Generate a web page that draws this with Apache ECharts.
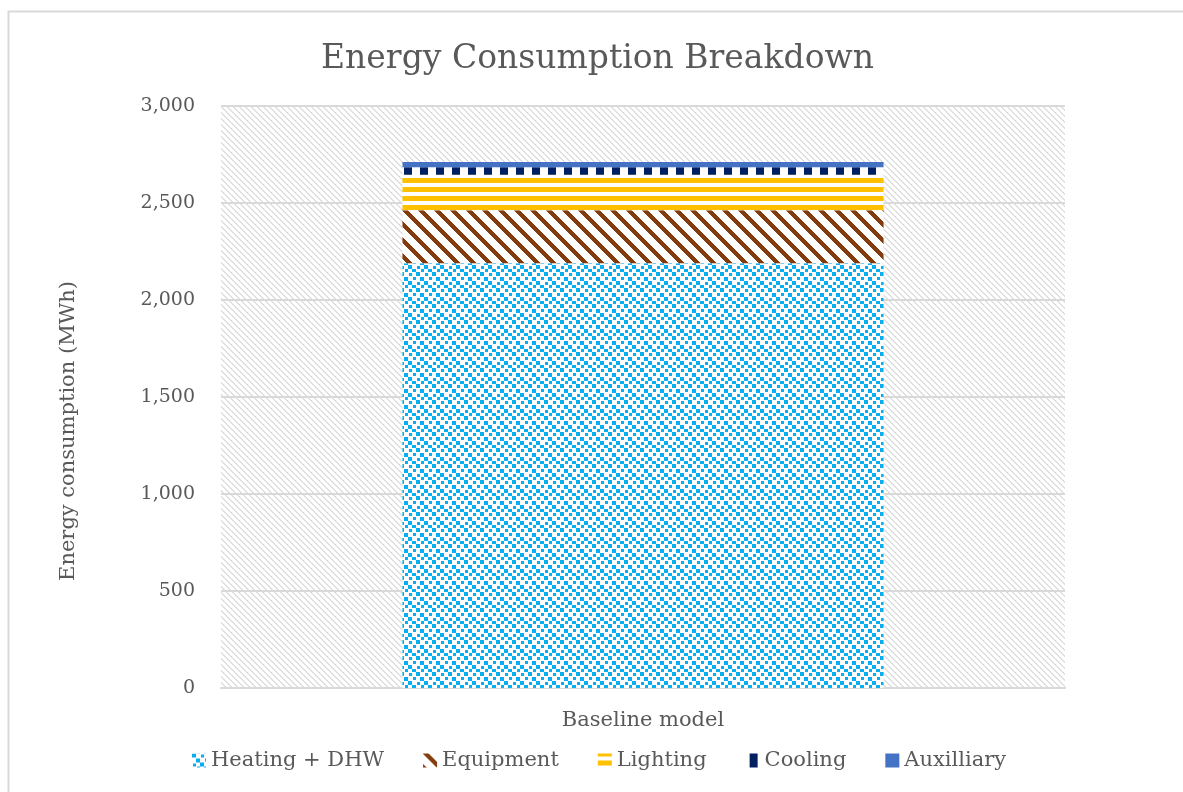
<!DOCTYPE html>
<html>
<head>
<meta charset="utf-8">
<script src="https://cdn.jsdelivr.net/npm/echarts@6/dist/echarts.min.js"></script>
<style>
html,body{margin:0;padding:0;background:#fff;}
#main{width:1183px;height:792px;}
</style>
</head>
<body>
<div id="main"></div>
<script>
// ---- data ----
const categories = ['Baseline model'];
const seriesNames = ['Heating + DHW', 'Equipment', 'Lighting', 'Cooling', 'Auxilliary'];
const heating = [2190];
const equipment = [272];
const lighting = [183];
const cooling = [39];
const auxiliary = [27];
const yTicks = [0, 500, 1000, 1500, 2000, 2500, 3000];

// ---- patterns ----
function makePattern(w, h, draw) {
  const c = document.createElement('canvas');
  c.width = w; c.height = h;
  const ctx = c.getContext('2d');
  draw(ctx, w, h);
  return { image: c, repeat: 'repeat' };
}
const bgHatch = makePattern(6, 6, (ctx, w, h) => {
  ctx.fillStyle = '#ffffff'; ctx.fillRect(0, 0, w, h);
  ctx.fillStyle = '#e0e0e0';
  for (let y = 0; y < h; y++) for (let x = 0; x < w; x++) {
    if (((x - y) % 6 + 6) % 6 < 2) ctx.fillRect(x, y, 1, 1);
  }
});
const heatPat = makePattern(16, 16, (ctx, w, h) => {
  ctx.fillStyle = '#ffffff'; ctx.fillRect(0, 0, w, h);
  ctx.fillStyle = '#08aef0';
  const sq = [[0,0,4],[9,1,3],[4,5,4],[13,5,3],[1,10,3],[8,9,4],[5,13,3],[12,13,4]];
  sq.forEach(s => ctx.fillRect(s[0], s[1], s[2], s[2]));
});
const equipPat = makePattern(16, 16, (ctx, w, h) => {
  ctx.fillStyle = '#ffffff'; ctx.fillRect(0, 0, w, h);
  ctx.fillStyle = '#843c0c';
  for (let y = 0; y < h; y++) for (let x = 0; x < w; x++) {
    if (((x - y) % 16 + 16) % 16 < 6) ctx.fillRect(x, y, 1, 1);
  }
});
const lightPat = makePattern(4, 9, (ctx, w, h) => {
  ctx.fillStyle = '#ffffff'; ctx.fillRect(0, 0, w, h);
  ctx.fillStyle = '#ffc000';
  ctx.fillRect(0, 0, w, 3);
  ctx.fillRect(0, 7, w, 2);
});
const coolPat = makePattern(16, 4, (ctx, w, h) => {
  ctx.fillStyle = '#ffffff'; ctx.fillRect(0, 0, w, h);
  ctx.fillStyle = '#002060';
  ctx.fillRect(4, 0, 8, h);
});

const font = 'DejaVu Serif';
const textColor = '#595959';

const fills = [heatPat, equipPat, lightPat, coolPat, '#4472c4'];
const values = [heating, equipment, lighting, cooling, auxiliary];

const series = seriesNames.map((name, i) => ({
  name: name,
  type: 'bar',
  stack: 'total',
  barWidth: '57%',
  data: values[i],
  itemStyle: { color: fills[i] },
  emphasis: { disabled: true }
}));

const chart = echarts.init(document.getElementById('main'), null, { renderer: 'canvas' });
chart.setOption({
  animation: false,
  backgroundColor: '#ffffff',
  graphic: [{
    type: 'rect',
    shape: { x: 8.5, y: 11.5, width: 1300, height: 900 },
    style: { fill: 'none', stroke: '#d9d9d9', lineWidth: 2 },
    silent: true, z: -10
  }],
  title: {
    text: 'Energy Consumption Breakdown',
    left: 321,
    top: 43,
    padding: 0,
    textStyle: { fontFamily: font, fontSize: 33, fontWeight: 'normal', color: textColor }
  },
  legend: {
    bottom: 21,
    left: 192,
    itemWidth: 14,
    itemHeight: 14,
    itemGap: 39,
    icon: 'rect',
    padding: 0,
    textStyle: { fontFamily: font, fontSize: 21, color: textColor },
    data: seriesNames
  },
  grid: {
    left: 221, right: 118, top: 106, bottom: 104,
    show: true,
    backgroundColor: bgHatch,
    borderWidth: 0
  },
  xAxis: {
    type: 'category',
    data: categories,
    axisLine: { show: true, lineStyle: { color: '#d9d9d9', width: 2 } },
    axisTick: { show: false },
    axisLabel: { fontFamily: font, fontSize: 21, color: textColor, margin: 22 }
  },
  yAxis: {
    type: 'value',
    min: 0, max: 3000, interval: 500,
    name: 'Energy consumption (MWh)',
    nameLocation: 'middle',
    nameGap: 142,
    nameTextStyle: { fontFamily: font, fontSize: 21, color: textColor, padding: [0, 68, 0, 0] },
    axisLine: { show: false },
    axisTick: { show: false },
    splitLine: { lineStyle: { color: '#d9d9d9', width: 2 } },
    axisLabel: {
      fontFamily: font, fontSize: 19, color: textColor, margin: 26,
      formatter: v => v.toLocaleString('en-US')
    }
  },
  series: series
});
</script>
</body>
</html>
